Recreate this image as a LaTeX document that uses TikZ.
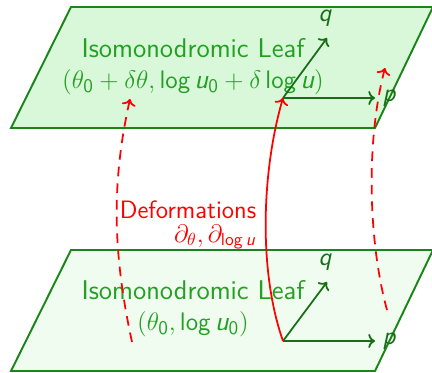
\documentclass[tikz,border=0pt]{standalone}
\usepackage{amsmath}
\usepackage{xcolor}
\usepackage{tikz}
\usetikzlibrary{arrows,arrows.meta,positioning,calc}
\definecolor{leafline}{HTML}{1A861A}
\definecolor{leaftext}{HTML}{22A022}
\definecolor{axisgreen}{HTML}{166E16}
\definecolor{leaftop}{HTML}{D9F7D9}
\definecolor{leafbot}{HTML}{F0FCF0}
\definecolor{defred}{HTML}{FF0000}
\newcommand{\sv}[1]{\textsf{\itshape #1}}

\begin{document}
\begin{tikzpicture}[
    x=0.02cm,y=-0.02cm,
    plan/.style  = {draw=leafline,line width=1.1pt},
    titre/.style = {align=center,text=leaftext,font=\sffamily\fontsize{15.4}{17.5}\selectfont},
    axe/.style   = {->,axisgreen,line width=1pt},
    axlab/.style = {text=axisgreen,font=\sffamily\itshape\fontsize{14.5}{16}\selectfont,inner sep=1pt},
    flot/.style  = {->,defred,line width=1pt},
    pointille/.style = {flot,dashed,dash pattern=on 5.5pt off 4pt},
    deflab/.style = {text=defred,font=\sffamily\fontsize{14.3}{16}\selectfont,inner sep=1pt},
  ]
  \useasboundingbox (0,0) rectangle (432,372);

  % les deux feuilles
  \draw[plan,fill=leafbot] (11,371) -- (71,250) -- (433,250) -- (375,371) -- cycle;
  \draw[plan,fill=leaftop] (11,128) -- (71,7) -- (433,7) -- (375,128) -- cycle;

  \node[titre] (haut) at (193,67) {Isomonodromic Leaf\\
       $(\theta_{\mathsf{0}}+\delta\theta,\mathsf{log}\,\sv{u}_{\mathsf{0}}+\delta\,\mathsf{log}\,\sv{u})$};
  \node[titre] (bas)  at (193,309) {Isomonodromic Leaf\\
       $(\theta_{\mathsf{0}},\mathsf{log}\,\sv{u}_{\mathsf{0}})$};

  % axes
  \coordinate (oh) at (283,98);
  \coordinate (ph) at (375,98);
  \coordinate (qh) at (327,38);
  \coordinate (ob) at (283,341);
  \coordinate (pb) at (375,341);
  \coordinate (qb) at (327,282);
  \node[axlab] (lph) at (389,98)  {p};
  \node[axlab] (lqh) at (325,18)  {q};
  \node[axlab] (lpb) at (389,341) {p};
  \node[axlab] (lqb) at (325,262) {q};
  \draw[axe] (oh) -- (ph);
  \draw[axe] (oh) -- (qh);
  \draw[axe] (ob) -- (pb);
  \draw[axe] (ob) -- (qb);

  % deformations
  \coordinate (gb) at (132,342);
  \coordinate (gh) at (130,99);
  \coordinate (db) at (387,310);
  \coordinate (dh) at (385,68);
  \draw[pointille] (gb) .. controls (112,250) and (112,180) .. (gh);
  \draw[pointille] (db) .. controls (368,240) and (366,140) .. (dh);
  \draw[flot] (ob) .. controls (258,270) and (262,170) .. (oh);

  \node[deflab] (def) at (188,210) {Deformations};
  \node[deflab,anchor=east] (der) at (258,237)
       {$\partial_\theta,\partial_{\mathsf{log}\,\sv{u}}$};

\end{tikzpicture}
\end{document}
